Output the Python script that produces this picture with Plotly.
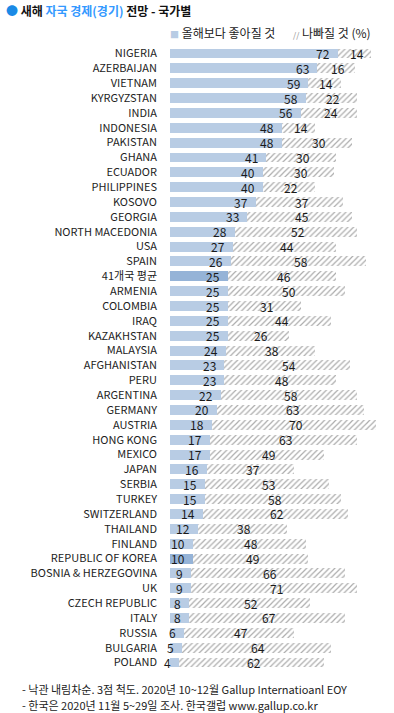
import plotly.graph_objects as go

countries = ["NIGERIA", "AZERBAIJAN", "VIETNAM", "KYRGYZSTAN", "INDIA", "INDONESIA", "PAKISTAN",
             "GHANA", "ECUADOR", "PHILIPPINES", "KOSOVO", "GEORGIA", "NORTH MACEDONIA", "USA",
             "SPAIN", "41개국 평균", "ARMENIA", "COLOMBIA", "IRAQ", "KAZAKHSTAN", "MALAYSIA",
             "AFGHANISTAN", "PERU", "ARGENTINA", "GERMANY", "AUSTRIA", "HONG KONG", "MEXICO",
             "JAPAN", "SERBIA", "TURKEY", "SWITZERLAND", "THAILAND", "FINLAND",
             "REPUBLIC OF KOREA", "BOSNIA & HERZEGOVINA", "UK", "CZECH REPUBLIC", "ITALY",
             "RUSSIA", "BULGARIA", "POLAND"]
better = [72, 63, 59, 58, 56, 48, 48, 41, 40, 40, 37, 33, 28, 27, 26, 25, 25, 25, 25, 25, 24,
          23, 23, 22, 20, 18, 17, 17, 16, 15, 15, 14, 12, 10, 10, 9, 9, 8, 8, 6, 5, 4]
worse = [14, 16, 14, 22, 24, 14, 30, 30, 30, 22, 37, 45, 52, 44, 58, 46, 50, 31, 44, 26, 38,
         54, 48, 58, 63, 70, 63, 49, 37, 53, 58, 62, 38, 48, 49, 66, 71, 52, 67, 47, 64, 62]
highlight = ["41개국 평균", "REPUBLIC OF KOREA"]

FONT = "Noto Sans CJK KR"
good_colors = ["#95B3D7" if c in highlight else "#B8CCE4" for c in countries]

W, H = 394, 713
PL, PR, PT, PB = 170, 0, 43, 40
PW = W - PL - PR
PH = H - PT - PB


def px(x):
    return (x - PL) / PW


def py(y):
    return 1 - (y - PT) / PH


fig = go.Figure()
fig.add_trace(go.Bar(
    y=countries, x=better, orientation="h", name="올해보다 좋아질 것",
    marker=dict(color=good_colors, line=dict(width=0)), hoverinfo="skip"))
fig.add_trace(go.Bar(
    y=countries, x=worse, orientation="h", name="나빠질 것 (%)",
    marker=dict(color="white", line=dict(width=0),
                pattern=dict(shape="/", fgcolor="#5a5a5a", bgcolor="white", size=4, solidity=0.3)),
    hoverinfo="skip"))

annotations = []
for c, g, b in zip(countries, better, worse):
    annotations.append(dict(x=g, y=c, xref="x", yref="y", text=str(g), showarrow=False,
                            xanchor="right", xshift=-6, font=dict(family=FONT, size=12, color="#1a1a1a")))
    annotations.append(dict(x=g + b / 2, y=c, xref="x", yref="y", text=str(b), showarrow=False,
                            xanchor="center", xshift=2, font=dict(family=FONT, size=12, color="#1a1a1a")))

annotations.append(dict(x=px(168), y=py(32), xref="paper", yref="paper", yanchor="middle",
                        text="<span style='color:#B8CCE4;font-size:9px'>■</span> 올해보다 좋아질 것",
                        showarrow=False, xanchor="left", font=dict(family=FONT, size=12, color="#222")))
annotations.append(dict(x=px(291), y=py(32), xref="paper", yref="paper", yanchor="middle",
                        text="<span style='color:#888;font-size:8px'>//</span> 나빠질 것 (%)",
                        showarrow=False, xanchor="left", font=dict(family=FONT, size=12, color="#222")))
annotations.append(dict(x=px(20), y=py(689), xref="paper", yref="paper", showarrow=False,
                        xanchor="left", yanchor="middle", align="left",
                        text="- 낙관 내림차순. 3점 척도. 2020년 10~12월 Gallup Internatioanl EOY",
                        font=dict(family=FONT, size=11, color="#222")))
annotations.append(dict(x=px(20), y=py(705), xref="paper", yref="paper", showarrow=False,
                        xanchor="left", yanchor="middle", align="left",
                        text="- 한국은 2020년 11월 5~29일 조사. 한국갤럽 www.gallup.co.kr",
                        font=dict(family=FONT, size=11, color="#222")))

fig.update_layout(
    width=W, height=H,
    margin=dict(l=PL, r=PR, t=PT, b=PB, autoexpand=False),
    paper_bgcolor="white", plot_bgcolor="white",
    barmode="stack", bargap=0.33, showlegend=False,
    title=dict(text="<span style='color:#1a8ae6'>●</span> 새해 <span style='color:#3399ff'>자국 경제(경기)</span> 전망 - 국가별",
               x=0.015, xanchor="left", y=1 - 12 / H, yanchor="middle",
               font=dict(family=FONT, size=12, color="#111", weight="bold")),
    xaxis=dict(range=[0, PW / 2.337], visible=False, fixedrange=True, automargin=False),
    yaxis=dict(autorange="reversed", showgrid=False, zeroline=False, showline=False, ticks="",
               automargin=False, ticklabelstandoff=12, fixedrange=True,
               tickfont=dict(family=FONT, size=11, color="#222")),
    annotations=annotations,
)

fig.write_html("out.html", config={"displayModeBar": False},
               post_script="document.body.style.margin='0';document.body.style.overflow='hidden';")
